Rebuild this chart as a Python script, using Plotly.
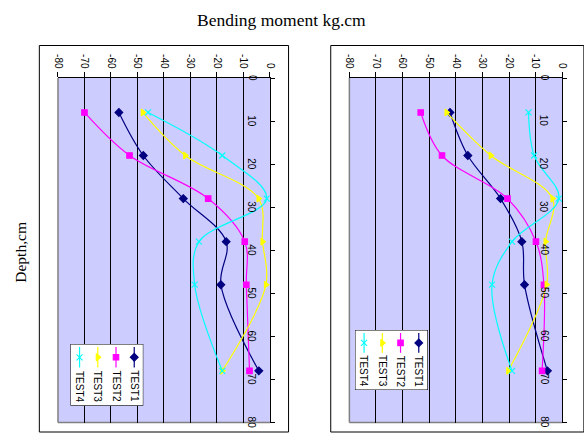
import plotly.graph_objects as go

# ---- data ----
depth = [8, 18, 28, 38, 48, 68]
series_names = ["TEST1", "TEST2", "TEST3", "TEST4"]

left_test1 = [-57, -47.8, -32.7, -16.5, -18.5, -4.2]
left_test2 = [-70, -53, -23.3, -9.5, -8.9, -7.7]
left_test3 = [-48, -32, -4.3, -2.8, -1.5, -18]
left_test4 = [-46, -18, -1.2, -26.8, -28.4, -18]

right_test1 = [-42.2, -35.5, -23.2, -15.2, -14.2, -5.6]
right_test2 = [-53.2, -45.2, -20.6, -9.9, -6.9, -7.6]
right_test3 = [-43.5, -26.9, -3.7, -6.3, -5.9, -20.3]
right_test4 = [-12.7, -10.6, -1.3, -18.9, -26.4, -18.9]

moment_ticks = [-80, -70, -60, -50, -40, -30, -20, -10, 0]
depth_ticks = [0, 10, 20, 30, 40, 50, 60, 70, 80]

title_text = "Bending moment kg.cm"
ytitle_text = "Depth,cm"

# ---- styles ----
colors = ["#000080", "#FF00FF", "#FFFF00", "#00FFFF"]
symbols = ["diamond", "square", "triangle-right", "x-thin"]
sizes = [6, 5.5, 6, 6]
W, H = 584, 437

def px(x):
    return x / W

def py(y):
    return 1 - y / H

fig = go.Figure()

panels = [
    ("x", "y", [left_test1, left_test2, left_test3, left_test4]),
    ("x2", "y2", [right_test1, right_test2, right_test3, right_test4]),
]

tickfont = dict(family="Liberation Sans", size=10, color="black")

for xa, ya, data in panels:
    for i, vals in enumerate(data):
        mk = dict(color=colors[i], size=sizes[i], symbol=symbols[i],
                  line=dict(color=colors[i], width=1.1))
        fig.add_trace(go.Scatter(
            x=vals, y=depth, mode="lines+markers", xaxis=xa, yaxis=ya,
            line=dict(color=colors[i], width=1.2, shape="spline", smoothing=1),
            marker=mk, showlegend=False, hoverinfo="skip"))
    # depth tick labels drawn inside the plot area, left of the depth axis line
    for d in depth_ticks:
        fig.add_annotation(x=0, y=d, xref=xa, yref=ya, text=str(d), textangle=90,
                           xanchor="center", yanchor="middle", xshift=-18,
                           showarrow=False, font=tickfont)

# legend axes: entries laid out by series index (TEST4 leftmost)
legend_axes = [("x3", "y3"), ("x4", "y4")]
for xa, ya in legend_axes:
    fig.add_trace(go.Scatter(
        x=[-0.5, 3.5, 3.5, -0.5, -0.5], y=[0, 0, 1, 1, 0], mode="lines", fill="toself",
        fillcolor="white", line=dict(color="black", width=1), xaxis=xa, yaxis=ya,
        showlegend=False, hoverinfo="skip"))
    for i, name in enumerate(series_names):
        pos = len(series_names) - 1 - i
        fig.add_trace(go.Scatter(
            x=[pos, pos], y=[0.62, 0.95], mode="lines", xaxis=xa, yaxis=ya,
            line=dict(color=colors[i], width=1.2), showlegend=False, hoverinfo="skip"))
        fig.add_trace(go.Scatter(
            x=[pos], y=[0.785], mode="markers", xaxis=xa, yaxis=ya,
            marker=dict(color=colors[i], size=sizes[i], symbol=symbols[i],
                        line=dict(color=colors[i], width=1.1)),
            showlegend=False, hoverinfo="skip"))
        fig.add_annotation(x=pos, y=0.31, xref=xa, yref=ya, text=name, textangle=90,
                           showarrow=False, font=tickfont)

plot_top, plot_bot = 78, 422.5
ydom = [py(plot_bot), py(plot_top)]
xdoms = [[px(54), px(270)], [px(351), px(568)]]

for k, (xa, ya) in enumerate([("xaxis", "yaxis"), ("xaxis2", "yaxis2")]):
    xname = "x" if k == 0 else "x2"
    yname = "y" if k == 0 else "y2"
    fig.layout[xa] = dict(
        domain=xdoms[k], range=[-80, 0], side="top", anchor=yname,
        tickmode="array", tickvals=moment_ticks, ticktext=[str(v) for v in moment_ticks],
        tickangle=90, tickfont=tickfont, ticks="outside", ticklen=5, tickcolor="black",
        showgrid=True, gridcolor="black", gridwidth=1, zeroline=False,
        showline=True, linecolor="black", linewidth=1, fixedrange=True)
    fig.layout[ya] = dict(
        domain=ydom, range=[80, 0], side="right", anchor=xname,
        tickmode="array", tickvals=depth_ticks, showticklabels=False,
        ticks="outside", ticklen=4, tickcolor="black",
        showgrid=False, zeroline=False,
        showline=True, linecolor="black", linewidth=1, fixedrange=True)

legend_boxes = [(66.7, 141, 344, 405.7), (356.7, 431, 330, 390)]
for k, (xa, ya) in enumerate([("xaxis3", "yaxis3"), ("xaxis4", "yaxis4")]):
    x0, x1, y0, y1 = legend_boxes[k]
    fig.layout[xa] = dict(domain=[px(x0), px(x1)], range=[-0.5, 3.5], visible=False,
                          anchor="y3" if k == 0 else "y4", fixedrange=True)
    fig.layout[ya] = dict(domain=[py(y1), py(y0)], range=[0, 1], visible=False,
                          anchor="x3" if k == 0 else "x4", fixedrange=True)

# gray plot area border (left & bottom)
for k in range(2):
    xr = ("x" if k == 0 else "x2") + " domain"
    yr = ("y" if k == 0 else "y2") + " domain"
    fig.add_shape(type="line", xref=xr, yref=yr, x0=0, x1=0, y0=0, y1=1, layer="below",
                  line=dict(color="#808080", width=1.5))
    fig.add_shape(type="line", xref=xr, yref=yr, x0=0, x1=1, y0=0, y1=0, layer="below",
                  line=dict(color="#808080", width=1.5))

# outer chart borders
for (x0, x1) in [(35, 289), (332, 590)]:
    fig.add_shape(type="rect", xref="paper", yref="paper",
                  x0=px(x0), x1=px(x1), y0=py(432), y1=py(45.5),
                  line=dict(color="black", width=1), fillcolor="rgba(0,0,0,0)")

fig.add_annotation(text=title_text, xref="paper", yref="paper", x=px(282), y=py(20),
                   xanchor="center", yanchor="middle",
                   showarrow=False, font=dict(family="Liberation Serif", size=17.5, color="black"))
fig.add_annotation(text=ytitle_text, xref="paper", yref="paper", x=px(15), y=py(252),
                   xanchor="center", yanchor="middle",
                   textangle=-90, showarrow=False,
                   font=dict(family="Liberation Serif", size=15.5, color="black"))

fig.update_layout(width=W, height=H, margin=dict(l=0, r=0, t=0, b=0),
                  paper_bgcolor="white", plot_bgcolor="#CCCCFF", showlegend=False)

fig.write_html("out.html", config={"displayModeBar": False},
               post_script="document.body.style.margin='0';document.body.style.overflow='hidden';")
